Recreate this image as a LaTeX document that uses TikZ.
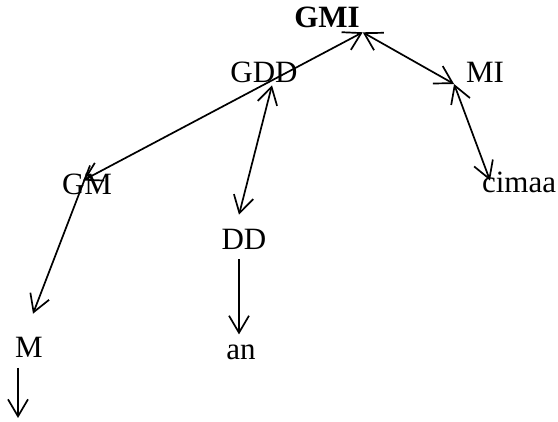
\documentclass[tikz,border=0pt]{standalone}
\usepackage{fontspec}
\setmainfont{Liberation Serif}
\usetikzlibrary{arrows.meta}
\tikzset{lbl/.style={inner sep=0pt,outer sep=0pt,anchor=base,font=\fontsize{15.5}{18}\selectfont}}

\begin{document}
\begin{tikzpicture}[x=0.5pt,y=-0.5pt,>={Straight Barb[length=8.5pt,width=10pt]},line width=0.85pt]
		\useasboundingbox (0,0) rectangle (558,422);
		\node[lbl,font=\fontsize{15.5}{18}\selectfont\bfseries] (GMI) at (327,28) {GMI};
		\node[lbl] (GDD) at (264,83) {GDD};
		\node[lbl] (MI) at (485,83) {MI};
		\node[lbl] (cimaa) at (519,193) {cimaa};
		\node[lbl] (GM) at (87,195) {GM};
		\node[lbl] (DD) at (244,250) {DD};
		\node[lbl] (M) at (29,358) {M};
		\node[lbl] (an) at (241,360) {an};
		\coordinate (Mend) at (18,418);
		\draw[<->] ([shift={(1.5pt,-2pt)}]GMI.south east) -- ([shift={(-2pt,-3pt)}]GM.north);
		\draw[<->] ([shift={(1.5pt,-2pt)}]GMI.south east) -- ([shift={(-6pt,-0.5pt)}]MI.south west);
		\draw[<->] ([shift={(-6pt,-0.5pt)}]MI.south west) -- ([shift={(4pt,-4pt)}]cimaa.north west);
		\draw[<->] ([shift={(4pt,-1pt)}]GDD.south) -- ([shift={(-2.5pt,7.5pt)}]DD.north);
		\draw[->] ([shift={(1.5pt,4.5pt)}]GM.north) -- ([shift={(2pt,12pt)}]M.north);
		\draw[->] ([shift={(-2.5pt,-4.5pt)}]DD.south) -- ([shift={(-1pt,5.5pt)}]an.north);
		\draw[->] ([shift={(-5.5pt,-5pt)}]M.south) -- (Mend);
	\end{tikzpicture}
\end{document}
